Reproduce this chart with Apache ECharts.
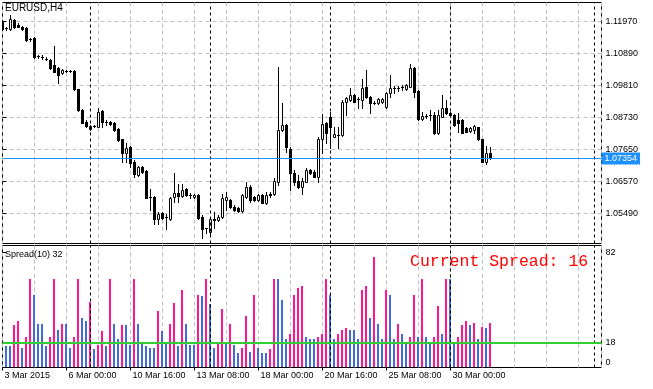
<!DOCTYPE html>
<html><head><meta charset="utf-8">
<script src="https://cdn.jsdelivr.net/npm/echarts@6/dist/echarts.min.js"></script>
<style>html,body{margin:0;padding:0;background:#fff;}#c{width:653px;height:389px;}</style>
</head><body><div id="c"></div>
<script>
const symbol = 'EURUSD', timeframe = 'H4';
const opens = [1.12004,1.11750,1.11714,1.12044,1.11869,1.11801,1.11747,1.11380,1.11410,1.10818,
1.10784,1.10726,1.10678,1.10509,1.10397,1.10229,1.10311,1.10301,1.10316,1.09689,
1.08990,1.08595,1.08339,1.08445,1.08426,1.08956,1.08600,1.08595,1.08561,1.08339,
1.08001,1.07549,1.07731,1.07245,1.06796,1.07066,1.06931,1.06049,1.06044,1.05311,
1.05504,1.05394,1.05311,1.06044,1.06179,1.06088,1.06314,1.06126,1.06044,1.06121,
1.05389,1.05002,1.04883,1.05278,1.05278,1.05369,1.05953,1.05953,1.05726,1.05672,
1.05591,1.06064,1.06401,1.06044,1.05953,1.06121,1.05841,1.06155,1.06155,1.06570,
1.08315,1.08484,1.07664,1.06874,1.06604,1.06401,1.06570,1.06965,1.06908,1.06739,
1.08001,1.08561,1.08744,1.08089,1.08151,1.08146,1.09270,1.09328,1.09496,1.09356,
1.09328,1.09756,1.09439,1.09241,1.09236,1.09270,1.09091,1.09554,1.09727,1.09717,
1.09751,1.09689,1.09776,1.10397,1.09641,1.08676,1.08783,1.08826,1.08821,1.08204,
1.08764,1.09047,1.08879,1.08821,1.08653,1.08653,1.08372,1.08291,1.08315,1.08406,
1.08001,1.07245,1.07549];
const highs = [1.12028,1.11801,1.12196,1.12061,1.11916,1.11825,1.11791,1.11420,1.11454,1.10846,
1.10836,1.10769,1.10711,1.11150,1.10441,1.10374,1.10340,1.10340,1.10340,1.09699,
1.09024,1.08653,1.08484,1.08484,1.09047,1.08990,1.08653,1.08619,1.08585,1.08383,
1.08011,1.07866,1.07775,1.07303,1.07100,1.07100,1.06965,1.06314,1.06088,1.05548,
1.05548,1.05480,1.06054,1.06874,1.06482,1.06493,1.06358,1.06189,1.06155,1.06155,
1.05446,1.05008,1.05345,1.05558,1.05446,1.06155,1.06233,1.05986,1.05784,1.05716,
1.06155,1.06570,1.06459,1.06088,1.06155,1.06155,1.06223,1.06233,1.06695,1.10451,
1.09216,1.08518,1.07741,1.06965,1.06796,1.06695,1.07033,1.06999,1.06965,1.08079,
1.08855,1.08595,1.08923,1.08416,1.08426,1.09328,1.09439,1.09722,1.09530,1.09439,
1.10026,1.10340,1.09479,1.09294,1.09395,1.09395,1.09598,1.10171,1.09800,1.09800,
1.09824,1.09868,1.10543,1.10441,1.09665,1.08933,1.08855,1.08990,1.08933,1.08990,
1.09496,1.09328,1.08923,1.08855,1.08879,1.08686,1.08416,1.08416,1.08484,1.08426,
1.08011,1.07775,1.07751];
const lows = [1.11690,1.11690,1.11690,1.11758,1.11781,1.11690,1.11319,1.11319,1.10745,1.10735,
1.10701,1.10678,1.10374,1.10273,1.09911,1.10205,1.10273,1.10273,1.09665,1.08956,
1.08551,1.08416,1.08315,1.08406,1.08416,1.08406,1.08484,1.08484,1.08291,1.07944,
1.07245,1.07245,1.07056,1.06719,1.06763,1.06864,1.06020,1.05615,1.05143,1.05143,
1.05311,1.04964,1.05278,1.05895,1.05895,1.06054,1.06088,1.06010,1.06020,1.05311,
1.04660,1.04829,1.04771,1.04997,1.05244,1.05345,1.05615,1.05683,1.05581,1.05548,
1.05548,1.06020,1.05885,1.05919,1.05919,1.05851,1.05818,1.06064,1.06121,1.06459,
1.08281,1.07583,1.06290,1.06459,1.06347,1.06155,1.06560,1.06830,1.06729,1.06570,
1.07549,1.07866,1.07697,1.08079,1.07708,1.08113,1.08821,1.09294,1.09260,1.09047,
1.09047,1.09395,1.08899,1.09193,1.09193,1.09226,1.09058,1.09439,1.09564,1.09631,
1.09665,1.09665,1.09766,1.09419,1.08653,1.08653,1.08720,1.08653,1.08180,1.08180,
1.08754,1.08855,1.08788,1.08450,1.08258,1.08214,1.08248,1.08248,1.08204,1.07978,
1.07235,1.07157,1.07326];
const closes = [1.11714,1.11744,1.12051,1.11801,1.11801,1.11714,1.11353,1.11370,1.10769,1.10808,
1.10774,1.10716,1.10397,1.10283,1.10171,1.10340,1.10301,1.10311,1.09689,1.08990,
1.08561,1.08450,1.08450,1.08455,1.08933,1.08595,1.08590,1.08518,1.08315,1.07978,
1.07529,1.07697,1.07211,1.06830,1.07056,1.06908,1.06030,1.06039,1.05311,1.05470,
1.05335,1.05384,1.06010,1.06179,1.06088,1.06290,1.06121,1.06116,1.06121,1.05335,
1.04964,1.04992,1.05311,1.05311,1.05389,1.06010,1.06044,1.05706,1.05615,1.05591,
1.06121,1.06401,1.05953,1.05953,1.06121,1.05861,1.06121,1.06111,1.06594,1.08315,
1.08484,1.07731,1.06874,1.06570,1.06401,1.06604,1.06965,1.06874,1.06739,1.08001,
1.08518,1.08204,1.08426,1.08180,1.08141,1.09270,1.09385,1.09496,1.09270,1.09346,
1.09722,1.09419,1.09216,1.09231,1.09351,1.09351,1.09554,1.09722,1.09717,1.09727,
1.09761,1.09834,1.10397,1.09608,1.08676,1.08788,1.08793,1.08816,1.08204,1.08821,
1.09047,1.08879,1.08821,1.08484,1.08541,1.08224,1.08258,1.08372,1.08450,1.08001,
1.07245,1.07549,1.07354];
const spread = [null,15,15,30,33,14,22,63,52,31,
31,15,22,63,27,31,31,14,22,63,
35,33,47,13,16,26,15,63,31,20,
30,30,16,63,31,17,15,14,14,40,
26,17,31,46,15,55,31,16,16,52,
51,63,45,14,18,42,18,31,16,10,
14,37,11,52,14,10,10,13,63,63,
48,20,24,52,57,58,22,20,20,22,
24,63,52,20,24,27,28,27,27,20,
55,58,35,79,31,20,55,52,20,31,
24,18,22,52,22,63,22,18,22,44,
24,63,63,18,22,30,33,30,32,20,
29,28,32];
const spreadPeriod = 10;
const spreadLevel = 18;
const currentSpread = 16;
const priceTicks = [1.05490,1.06570,1.07650,1.08730,1.09810,1.10890,1.11970];
const spreadTicks = [0,18,82];
const timeTickBars = [0,16,32,48,64,80,96,112];
const timeTickLabels = ['3 Mar 2015','6 Mar 00:00','10 Mar 16:00','13 Mar 08:00','18 Mar 00:00','20 Mar 16:00','25 Mar 08:00','30 Mar 00:00'];
const weekSeparators = [22,52,82,112,148];

const priceMin = 1.04484, priceMax = 1.12618;
const spreadMax = 87.14;
const barSlots = 149.75;
const lastIdx = closes.length - 1;
const FONT = 'Liberation Sans';

const candleData = opens.map((o, j) => [j, o, highs[j], lows[j], closes[j]]);
const spreadData = [];
spread.forEach((v, j) => { if (v !== null) spreadData.push([j, v, (j > 0 && spread[j-1] !== null && v > spread[j-1]) ? 1 : 0]); });

function renderCandle(params, api) {
  const j = api.value(0), o = api.value(1), h = api.value(2), l = api.value(3), c = api.value(4);
  const pO = api.coord([j, o]);
  const px = Math.floor(pO[0]);
  const yO = Math.round(pO[1]);
  const yC = Math.round(api.coord([j, c])[1]);
  const yH = Math.round(api.coord([j, h])[1]);
  const yL = Math.round(api.coord([j, l])[1]);
  const top = Math.min(yO, yC), bot = Math.max(yO, yC);
  const kids = [{type: 'rect', shape: {x: px, y: yH, width: 1, height: Math.max(1, yL - yH + 1)}, style: {fill: '#000'}}];
  if (c > o && bot - top >= 2) {
    kids.push({type: 'rect', shape: {x: px - 0.5, y: top + 0.5, width: 2, height: bot - top}, style: {fill: '#fff', stroke: '#000', lineWidth: 1}});
  } else {
    kids.push({type: 'rect', shape: {x: px - 1, y: top, width: 3, height: bot - top + 1}, style: {fill: '#000'}});
  }
  return {type: 'group', children: kids};
}

function renderSpread(params, api) {
  const j = api.value(0), v = api.value(1), up = api.value(2);
  const p1 = api.coord([j, v]);
  const p0 = api.coord([j, 0]);
  const px = Math.floor(p1[0]);
  const yt = Math.round(p1[1]);
  const yb = Math.floor(p0[1]);
  return {type: 'rect', shape: {x: px - 1, y: yt, width: 2, height: Math.max(0, yb - yt)},
          style: {fill: up ? '#FF1493' : '#4169E1'}};
}

const chart = echarts.init(document.getElementById('c'), null, {renderer: 'canvas'});
const gridLine = {show: true, lineStyle: {color: '#C0C0C0', type: [4, 3], width: 1}};
chart.setOption({
  animation: false,
  backgroundColor: '#fff',
  grid: [
    {left: 2.5, top: 2.5, width: 599, height: 241, show: true, borderColor: '#000', borderWidth: 1, backgroundColor: 'transparent'},
    {left: 2.5, top: 245.5, width: 599, height: 122, show: true, borderColor: '#000', borderWidth: 1, backgroundColor: 'transparent'}
  ],
  xAxis: [
    {gridIndex: 0, type: 'value', min: 0, max: barSlots, interval: 8, axisLine: {show: false}, axisTick: {show: false}, axisLabel: {show: false}, splitLine: gridLine},
    {gridIndex: 1, type: 'value', min: 0, max: barSlots, interval: 8, axisLine: {show: false}, axisTick: {show: false}, axisLabel: {show: false}, splitLine: gridLine},
    {gridIndex: 1, type: 'value', min: 0, max: barSlots, position: 'bottom', axisLine: {show: false},
     axisTick: {show: true, customValues: timeTickBars, length: 3, lineStyle: {color: '#000'}},
     axisLabel: {show: true, customValues: timeTickBars, formatter: (v) => timeTickLabels[timeTickBars.indexOf(v)],
                 align: 'left', margin: 4, padding: [0, 0, 0, 2], color: '#000', fontSize: 9, fontFamily: FONT},
     splitLine: {show: false}}
  ],
  yAxis: [
    {gridIndex: 0, type: 'value', position: 'right', min: priceMin, max: priceMax, axisLine: {show: false},
     axisTick: {show: true, customValues: priceTicks, length: 4, lineStyle: {color: '#000'}},
     axisLabel: {show: true, customValues: priceTicks, formatter: (v) => v.toFixed(5), margin: 4, color: '#000', fontSize: 9, fontFamily: FONT},
     splitLine: gridLine},
    {gridIndex: 1, type: 'value', position: 'right', min: 0, max: spreadMax, axisLine: {show: false},
     axisTick: {show: true, customValues: spreadTicks, length: 4, lineStyle: {color: '#000'}},
     axisLabel: {show: true, customValues: spreadTicks, formatter: (v) => v === 0 ? '{lo|0}' : String(v), margin: 4,
                 color: '#000', fontSize: 9, fontFamily: FONT, rich: {lo: {padding: [0, 0, 10, 0], fontSize: 9, fontFamily: FONT, color: '#000'}}},
     splitLine: {show: false}}
  ],
  series: [
    {type: 'line', xAxisIndex: 0, yAxisIndex: 0, data: closes.map((c, j) => [j, c]), showSymbol: false, silent: true, clip: false,
     lineStyle: {opacity: 0}, z: 1,
     markLine: {symbol: ['none', 'none'], silent: true, animation: false, precision: 5,
       data: weekSeparators.map(s => ({xAxis: s, lineStyle: {color: '#000', type: [3, 3], width: 1}, label: {show: false}})).concat([
         {yAxis: closes[lastIdx], lineStyle: {color: '#1E90FF', type: 'solid', width: 1},
          label: {show: true, position: 'end', distance: 0, formatter: closes[lastIdx].toFixed(5), backgroundColor: '#1E90FF',
                  color: '#fff', padding: [2, 3, 1, 3], fontSize: 9, fontFamily: FONT}}
       ])}},
    {type: 'custom', xAxisIndex: 0, yAxisIndex: 0, data: candleData, renderItem: renderCandle, clip: true, z: 3,
     encode: {x: 0, y: [1, 2, 3, 4]}},
    {type: 'line', xAxisIndex: 1, yAxisIndex: 1, data: spreadData.map(d => [d[0], d[1]]), showSymbol: false, silent: true,
     lineStyle: {opacity: 0}, z: 1,
     markLine: {symbol: ['none', 'none'], silent: true, animation: false, precision: 2,
       data: weekSeparators.map(s => ({xAxis: s, lineStyle: {color: '#000', type: [3, 3], width: 1}, label: {show: false}}))}},
    {type: 'custom', xAxisIndex: 1, yAxisIndex: 1, data: spreadData, renderItem: renderSpread, clip: true, z: 3,
     encode: {x: 0, y: 1}},
    {type: 'line', xAxisIndex: 1, yAxisIndex: 1, data: spreadData.map(d => [d[0], d[1]]), showSymbol: false, silent: true,
     lineStyle: {opacity: 0}, z: 5,
     markLine: {symbol: ['none', 'none'], silent: true, animation: false, precision: 2,
       data: [{yAxis: spreadLevel, lineStyle: {color: '#32CD32', type: 'solid', width: 2}, label: {show: false}}]}}
  ],
  graphic: [
    {type: 'text', left: 5, top: 3, z: 10, style: {text: symbol + ',' + timeframe, fill: '#000', fontSize: 10, fontFamily: FONT}},
    {type: 'text', left: 5, top: 250, z: 10, style: {text: 'Spread(' + spreadPeriod + ') ' + spread[lastIdx], fill: '#000', fontSize: 9, fontFamily: FONT}},
    {type: 'text', left: 410, top: 253, z: 10, style: {text: 'Current Spread: ' + currentSpread, fill: '#FF0000', fontSize: 16.5, fontFamily: 'Liberation Mono'}}
  ]
});
</script></body></html>
